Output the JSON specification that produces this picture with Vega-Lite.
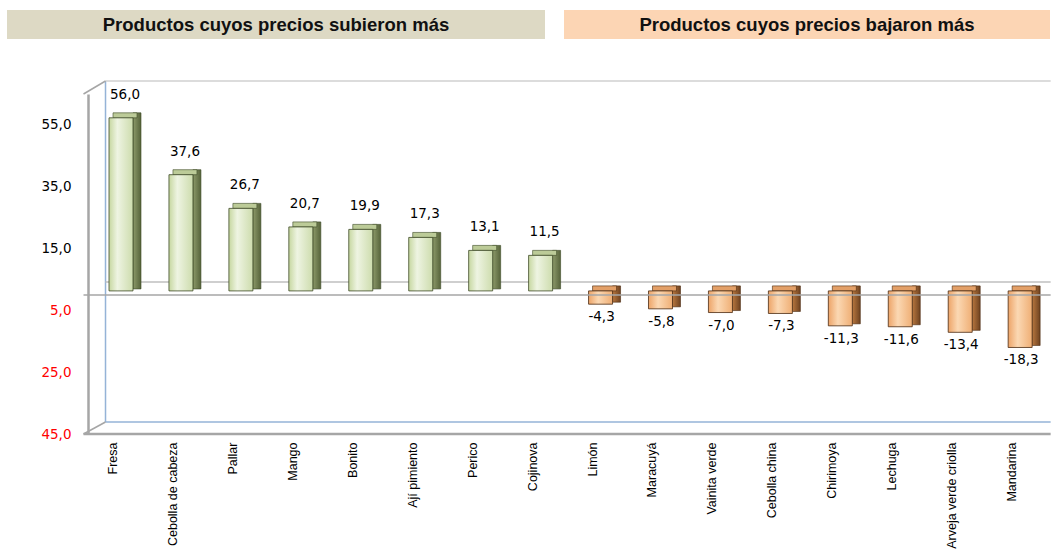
{
  "$schema": "https://vega.github.io/schema/vega-lite/v6.json",
  "padding": {"left": 7, "top": 10, "right": 2, "bottom": 0},
  "background": "white",
  "bounds": "flush",
  "spacing": 84,
  "config": {
    "locale": {"number": {"decimal": ",", "thousands": ".", "grouping": [3], "currency": ["", " €"], "minus": "-"}},
    "view": {"stroke": null}
  },
  "vconcat": [
    {
      "bounds": "flush",
      "spacing": 19,
      "hconcat": [
        {
          "width": 538, "height": 29,
          "view": {"fill": "#ddd9c4", "stroke": null},
          "data": {"values": [{"t": "Productos cuyos precios subieron más"}]},
          "mark": {"type": "text", "font": "Liberation Sans", "fontSize": 18.5, "fontWeight": "bold", "color": "#111111", "baseline": "middle", "align": "center"},
          "encoding": {"text": {"field": "t"}}
        },
        {
          "width": 486, "height": 29,
          "view": {"fill": "#fcd5b4", "stroke": null},
          "data": {"values": [{"t": "Productos cuyos precios bajaron más"}]},
          "mark": {"type": "text", "font": "Liberation Sans", "fontSize": 18.5, "fontWeight": "bold", "color": "#111111", "baseline": "middle", "align": "center"},
          "encoding": {"text": {"field": "t"}}
        }
      ]
    },
    {
      "width": 1043,
      "height": 340,
      "data": {"values": [
        {"producto": "Fresa", "valor": 56.0},
        {"producto": "Cebolla de cabeza", "valor": 37.6},
        {"producto": "Pallar", "valor": 26.7},
        {"producto": "Mango", "valor": 20.7},
        {"producto": "Bonito", "valor": 19.9},
        {"producto": "Ají pimiento", "valor": 17.3},
        {"producto": "Perico", "valor": 13.1},
        {"producto": "Cojinova", "valor": 11.5},
        {"producto": "Limón", "valor": -4.3},
        {"producto": "Maracuyá", "valor": -5.8},
        {"producto": "Vainita verde", "valor": -7.0},
        {"producto": "Cebolla china", "valor": -7.3},
        {"producto": "Chirimoya", "valor": -11.3},
        {"producto": "Lechuga", "valor": -11.6},
        {"producto": "Arveja verde criolla", "valor": -13.4},
        {"producto": "Mandarina", "valor": -18.3}
      ]},
      "encoding": {
        "x": {
          "field": "producto", "type": "nominal", "sort": null,
          "scale": {"type": "band", "domain": ["Fresa", "Cebolla de cabeza", "Pallar", "Mango", "Bonito", "Ají pimiento", "Perico", "Cojinova", "Limón", "Maracuyá", "Vainita verde", "Cebolla china", "Chirimoya", "Lechuga", "Arveja verde criolla", "Mandarina"], "paddingInner": 0.6, "paddingOuter": 1.05, "align": 0.851, "round": false},
          "axis": {"title": null, "labelAngle": 270, "labelFont": "Liberation Sans", "labelFontSize": 12.5, "labelColor": "#000000", "labelPadding": 8, "labelOffset": -8, "labelLimit": 0, "domain": false, "ticks": false, "grid": false}
        },
        "y": {
          "type": "quantitative",
          "scale": {"domain": [-45, 65], "nice": false, "zero": false},
          "axis": {"title": null, "values": [55, 35, 15, -5, -25, -45], "labelExpr": "replace(format(abs(datum.value), '.1f'), '.', ',')", "labelColor": {"expr": "datum.value < 0 ? '#ff0000' : '#000000'"}, "labelFont": "DejaVu Sans", "labelFontSize": 13.5, "labelPadding": 17, "offset": -81, "ticks": false, "grid": false, "domain": true, "domainColor": "#a6a6a6", "domainWidth": 2.5}
        }
      },
      "layer": [
        {
          "data": {"values": [{}]},
          "mark": {"type": "rule", "color": "#95b3d7", "strokeWidth": 1.5, "xOffset": -15.5, "yOffset": -13, "y2Offset": -12},
          "encoding": {"x": {"datum": "Fresa"}, "y": {"datum": 65}, "y2": {"datum": -45}}
        },
        {
          "data": {"values": [{}]},
          "mark": {"type": "rule", "color": "#d0d0d0", "strokeWidth": 1.5, "xOffset": -15.5, "x2Offset": 30.5, "yOffset": -13},
          "encoding": {"x": {"datum": "Fresa"}, "x2": {"datum": "Mandarina"}, "y": {"datum": 65}}
        },
        {
          "data": {"values": [{}]},
          "mark": {"type": "rule", "color": "#95b3d7", "strokeWidth": 1.5, "xOffset": -15.5, "x2Offset": 30.5, "yOffset": -12},
          "encoding": {"x": {"datum": "Fresa"}, "x2": {"datum": "Mandarina"}, "y": {"datum": -45}}
        },
        {
          "data": {"values": [{}]},
          "mark": {"type": "rule", "color": "#bfbfbf", "strokeWidth": 1.5, "xOffset": -15.5, "x2Offset": 30.5, "yOffset": -13},
          "encoding": {"x": {"datum": "Fresa"}, "x2": {"datum": "Mandarina"}, "y": {"datum": 0}}
        },
        {
          "data": {"values": [{}]},
          "mark": {"type": "rule", "color": "#a6a6a6", "strokeWidth": 1.5, "xOffset": -37.5, "x2Offset": -15.5, "y2Offset": -13},
          "encoding": {"x": {"datum": "Fresa"}, "x2": {"datum": "Fresa"}, "y": {"datum": 65}, "y2": {"datum": 65}}
        },
        {
          "data": {"values": [{}]},
          "mark": {"type": "rule", "color": "#a6a6a6", "strokeWidth": 1.5, "xOffset": -37.5, "x2Offset": -15.5, "y2Offset": -12},
          "encoding": {"x": {"datum": "Fresa"}, "x2": {"datum": "Fresa"}, "y": {"datum": -45}, "y2": {"datum": -45}}
        },
        {
          "transform": [{"filter": "datum.valor > 0"}],
          "mark": {"type": "bar", "width": 8, "xOffset": 16, "yOffset": -9, "y2Offset": -6, "stroke": "#3d4a26", "strokeWidth": 0.6,
            "color": {"gradient": "linear", "x1": 0, "x2": 1, "y1": 0, "y2": 0, "stops": [{"offset": 0, "color": "#8d9a6a"}, {"offset": 1, "color": "#56633a"}]}},
          "encoding": {"y": {"field": "valor"}, "y2": {"datum": 0}}
        },
        {
          "transform": [{"filter": "datum.valor > 0"}],
          "mark": {"type": "bar", "width": 24, "xOffset": 4, "yOffset": -9, "y2Offset": -4, "color": "#bccb98", "stroke": "#3d4a26", "strokeWidth": 0.6},
          "encoding": {"y": {"field": "valor"}, "y2": {"field": "valor"}}
        },
        {
          "transform": [{"filter": "datum.valor > 0"}],
          "mark": {"type": "bar", "width": 24, "yOffset": -4, "y2Offset": -4, "stroke": "#3d4a26", "strokeWidth": 0.8,
            "color": {"gradient": "linear", "x1": 0, "x2": 1, "y1": 0, "y2": 0, "stops": [{"offset": 0, "color": "#c6d7a0"}, {"offset": 0.35, "color": "#eef4e2"}, {"offset": 1, "color": "#cddcad"}]}},
          "encoding": {"y": {"field": "valor"}, "y2": {"datum": 0}}
        },
        {
          "transform": [{"filter": "datum.valor < 0"}],
          "mark": {"type": "bar", "width": 8, "xOffset": 16, "yOffset": -6, "y2Offset": -9, "stroke": "#4a2a10", "strokeWidth": 0.6,
            "color": {"gradient": "linear", "x1": 0, "x2": 1, "y1": 0, "y2": 0, "stops": [{"offset": 0, "color": "#b8773f"}, {"offset": 1, "color": "#6e4220"}]}},
          "encoding": {"y": {"field": "valor"}, "y2": {"datum": 0}}
        },
        {
          "transform": [{"filter": "datum.valor < 0"}],
          "mark": {"type": "bar", "width": 24, "xOffset": 4, "yOffset": -9, "y2Offset": -4, "color": "#e3a068", "stroke": "#4a2a10", "strokeWidth": 0.6},
          "encoding": {"y": {"datum": 0}, "y2": {"datum": 0}}
        },
        {
          "transform": [{"filter": "datum.valor < 0"}],
          "mark": {"type": "bar", "width": 24, "yOffset": -4, "y2Offset": -4, "stroke": "#4a2a10", "strokeWidth": 0.8,
            "color": {"gradient": "linear", "x1": 0, "x2": 1, "y1": 0, "y2": 0, "stops": [{"offset": 0, "color": "#eda468"}, {"offset": 0.4, "color": "#fbd8b3"}, {"offset": 1, "color": "#efae74"}]}},
          "encoding": {"y": {"field": "valor"}, "y2": {"datum": 0}}
        },
        {
          "data": {"values": [{}]},
          "mark": {"type": "rule", "color": "#a6a6a6", "strokeWidth": 1.5, "xOffset": -37.5, "x2Offset": 30.5},
          "encoding": {"x": {"datum": "Fresa"}, "x2": {"datum": "Mandarina"}, "y": {"datum": 0}}
        },
        {
          "data": {"values": [{}]},
          "mark": {"type": "rule", "color": "#a6a6a6", "strokeWidth": 2.5, "xOffset": -37.5, "x2Offset": 30.5},
          "encoding": {"x": {"datum": "Fresa"}, "x2": {"datum": "Mandarina"}, "y": {"datum": -45}}
        },
        {
          "transform": [{"filter": "datum.valor > 0"}],
          "mark": {"type": "text", "font": "DejaVu Sans", "fontSize": 13.5, "color": "#000000", "baseline": "middle", "align": "center", "yOffset": -27, "xOffset": 4},
          "encoding": {"y": {"field": "valor"}, "text": {"field": "valor", "type": "quantitative", "format": ".1f"}}
        },
        {
          "transform": [{"filter": "datum.valor < 0"}],
          "mark": {"type": "text", "font": "DejaVu Sans", "fontSize": 13.5, "color": "#000000", "baseline": "middle", "align": "center", "yOffset": 9, "xOffset": 1},
          "encoding": {"y": {"field": "valor"}, "text": {"field": "valor", "type": "quantitative", "format": ".1f"}}
        }
      ]
    }
  ]
}
